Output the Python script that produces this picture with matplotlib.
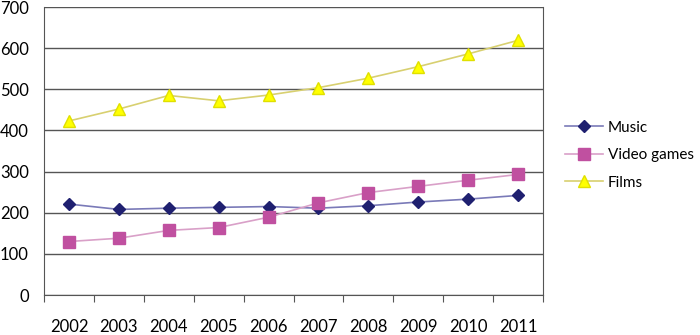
import matplotlib.pyplot as plt
import numpy as np

plt.rcParams['font.family'] = ['Lato', 'DejaVu Sans']

years = ['2002', '2003', '2004', '2005', '2006', '2007', '2008', '2009', '2010', '2011']
music = [221, 208, 211, 213, 215, 211, 217, 226, 233, 242]
video_games = [130, 138, 157, 164, 189, 224, 249, 264, 279, 293]
films = [423, 452, 485, 472, 486, 504, 527, 555, 586, 619]

fig = plt.figure(figsize=(7, 3.35), dpi=100)
ax = fig.add_axes([44 / 700, 40 / 335, 499 / 700, 288 / 335])

x = np.arange(len(years)) + 0.5
ax.plot(x, music, color='#7a7ab8', linewidth=1.2, marker='D', markersize=6.5,
        markerfacecolor='#1f2070', markeredgecolor='#1f2070', label='Music')
ax.plot(x, video_games, color='#d9a0c8', linewidth=1.2, marker='s', markersize=8,
        markerfacecolor='#c050a0', markeredgecolor='#c050a0', label='Video games')
ax.plot(x, films, color='#d8d070', linewidth=1.2, marker='^', markersize=9,
        markerfacecolor='#ffff00', markeredgecolor='#e0e000', label='Films')

ax.set_xlim(0, len(years))
ax.set_ylim(0, 700)
ax.set_yticks(range(0, 701, 100))
ax.yaxis.grid(True, color='#555555', linewidth=1)
ax.set_axisbelow(True)
ax.tick_params(axis='y', length=0, pad=11, labelsize=12)

ax.set_xticks(np.arange(len(years) + 1))
ax.set_xticklabels([])
ax.tick_params(axis='x', which='major', length=5, color='#555555', direction='out')
ax.set_xticks(x, minor=True)
ax.set_xticklabels(years, minor=True)
ax.tick_params(axis='x', which='minor', length=0, pad=17, labelsize=12)

for side in ['left', 'right', 'bottom']:
    ax.spines[side].set_color('#555555')
ax.spines['top'].set_visible(False)

ax.legend(loc='center left', bbox_to_anchor=(565 / 700, 0.537),
          bbox_transform=fig.transFigure, frameon=False, borderpad=0,
          borderaxespad=0, fontsize=11, handlelength=2.5, labelspacing=0.88,
          handletextpad=0.3)

fig.savefig('out.png', dpi=100)
